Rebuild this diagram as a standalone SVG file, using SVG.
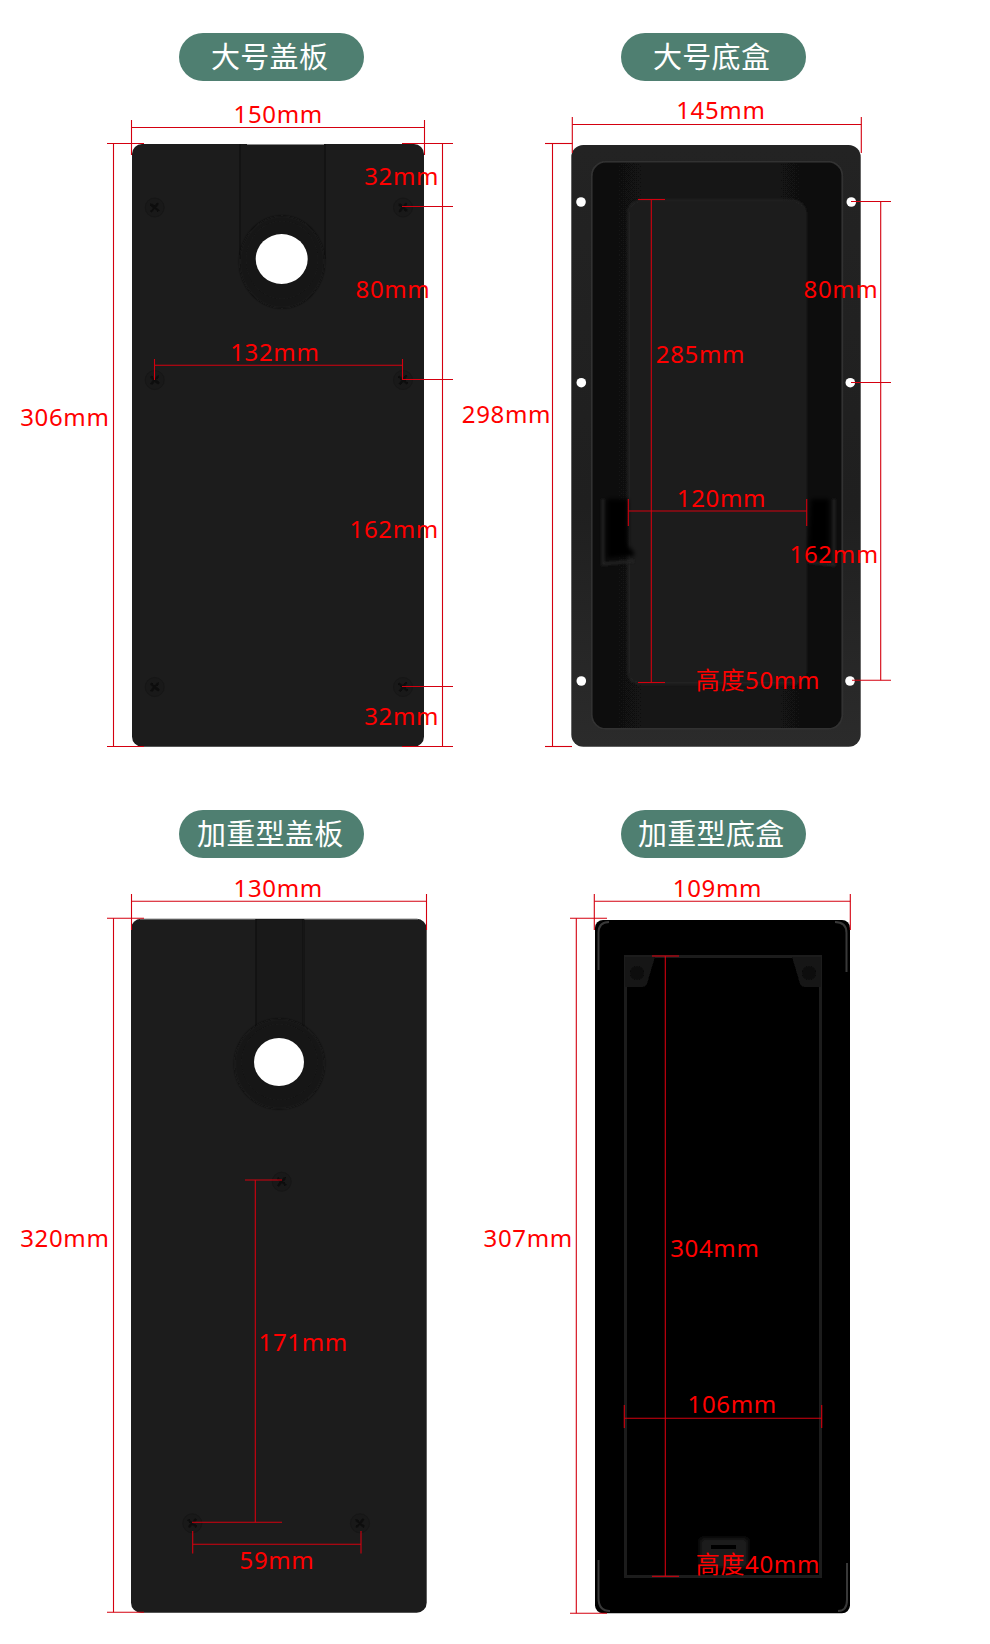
<svg xmlns="http://www.w3.org/2000/svg" xmlns:xlink="http://www.w3.org/1999/xlink" width="990" height="1644" viewBox="0 0 990 1644">
<style>
.d{font-family:"Noto Sans","Noto Sans CJK SC",sans-serif;font-size:24px;fill:#f00;letter-spacing:.65px}
.t{font-family:"Noto Sans CJK SC",sans-serif;font-size:29px;fill:#fff;letter-spacing:.3px}
.pill{fill:#4f7f71}
.dim line{stroke:#d4000f;stroke-width:1.1;fill:none}
.hole{fill:#fff}
</style>
<defs>
<filter id="b0" x="-30%" y="-30%" width="160%" height="160%"><feGaussianBlur stdDeviation=".6"/></filter>
<filter id="b1" x="-30%" y="-30%" width="160%" height="160%"><feGaussianBlur stdDeviation="1"/></filter>
<filter id="b2" x="-30%" y="-30%" width="160%" height="160%"><feGaussianBlur stdDeviation="2"/></filter>
<linearGradient id="flange" x1="0" y1="0" x2="0" y2="1"><stop offset="0" stop-color="#232323"/><stop offset=".6" stop-color="#1f1f1f"/><stop offset="1" stop-color="#2b2b2b"/></linearGradient>
<linearGradient id="pit" x1="0" y1="0" x2="1" y2="0"><stop offset="0" stop-color="#101010"/><stop offset=".5" stop-color="#151515"/><stop offset="1" stop-color="#0f0f0f"/></linearGradient>
<g id="screw">
<circle r="9.500" fill="#191919" stroke="#161616" stroke-width="1"/>
<path d="M-3.500-3L3.500 3M3-3.500L-3 3.500" stroke="#0c0c0c" stroke-width="2.400" stroke-linecap="round" filter="url(#b0)"/>
</g>
</defs>
<rect width="990" height="1644" fill="#fff"/>

<g id="title-1"><rect class="pill" x="179" y="33" width="185" height="48" rx="24"/><text class="t" x="211" y="68">大号盖板</text></g>
<g id="title-2"><rect class="pill" x="621" y="33" width="185" height="48" rx="24"/><text class="t" x="653" y="68">大号底盒</text></g>
<g id="title-3"><rect class="pill" x="179" y="810" width="185" height="48" rx="24"/><text class="t" x="197" y="845">加重型盖板</text></g>
<g id="title-4"><rect class="pill" x="621" y="810" width="185" height="48" rx="24"/><text class="t" x="638" y="845">加重型底盒</text></g>

<g id="panel-large-cover">
<rect x="132" y="144" width="292" height="602.700" rx="10" fill="#1c1c1c"/>
<path d="M240 144H325V259A42.500 49 0 0 1 240 259Z" fill="#1a1a1a"/>
<path d="M240 144V259M325 144V259" stroke="#161616" stroke-width="1.500" fill="none" filter="url(#b0)"/>
<line x1="247" y1="144.500" x2="324" y2="144.500" stroke="#8a8a8a" stroke-width="1"/>
<ellipse cx="282" cy="262" rx="42.500" ry="46" fill="#131313" filter="url(#b1)"/>
<ellipse cx="282" cy="260" rx="36" ry="39" fill="#191919" filter="url(#b0)"/>
<ellipse cx="281.700" cy="259" rx="26" ry="25" class="hole"/>
<use xlink:href="#screw" href="#screw" x="154.700" y="207.500"/>
<use xlink:href="#screw" href="#screw" x="403" y="207.500"/>
<use xlink:href="#screw" href="#screw" x="154.700" y="380"/>
<use xlink:href="#screw" href="#screw" x="403" y="380"/>
<use xlink:href="#screw" href="#screw" x="154.700" y="687"/>
<use xlink:href="#screw" href="#screw" x="403" y="687"/>
</g>

<g id="panel-large-box">
<rect x="571.300" y="145" width="289.400" height="601.700" rx="12" fill="url(#flange)"/>
<rect x="591.800" y="161.800" width="250.500" height="567" rx="14" fill="url(#pit)" stroke="#333" stroke-width="1.600" filter="url(#b0)"/>
<rect x="628.500" y="201" width="176.500" height="482.500" rx="12" fill="#1b1b1b" stroke="#232323" stroke-width="2.500" filter="url(#b1)"/>
<path d="M603 499V564L634 561" fill="none" stroke="#242424" stroke-width="3" filter="url(#b1)"/>
<path d="M607 499H628V546L634 552V556L607 558Z" fill="#000" filter="url(#b2)"/>
<path d="M834 499V565L808 562" fill="none" stroke="#262626" stroke-width="2.500" filter="url(#b1)"/>
<path d="M811 499H829V560L808 556Z" fill="#000" filter="url(#b2)"/>
<circle class="hole" cx="581" cy="202" r="4.800"/>
<circle class="hole" cx="581.300" cy="382.700" r="4.800"/>
<circle class="hole" cx="581.300" cy="681" r="4.800"/>
<circle class="hole" cx="851.300" cy="202" r="4.800"/>
<circle class="hole" cx="850.300" cy="382.700" r="4.800"/>
<circle class="hole" cx="850" cy="681" r="4.800"/>
</g>

<g id="panel-heavy-cover">
<rect x="131" y="918.700" width="295.700" height="694" rx="10" fill="#1c1c1c"/>
<line x1="140" y1="919" x2="418" y2="919" stroke="#d0d0d0" stroke-width=".7"/>
<rect x="256" y="919" width="47.500" height="115" fill="#191919"/>
<path d="M256 919V1034M303.500 919V1034" stroke="#151515" stroke-width="1.500" filter="url(#b0)"/>
<circle cx="279.500" cy="1064" r="45" fill="#131313" filter="url(#b1)"/>
<circle cx="279.500" cy="1062" r="38" fill="#181818" filter="url(#b0)"/>
<ellipse cx="279" cy="1062" rx="25" ry="24" class="hole"/>
<use xlink:href="#screw" href="#screw" x="281.700" y="1181.700"/>
<use xlink:href="#screw" href="#screw" x="192.300" y="1523.300"/>
<use xlink:href="#screw" href="#screw" x="360" y="1523.300"/>
</g>

<g id="panel-heavy-box">
<rect x="595" y="920" width="255" height="693.300" rx="8" fill="#000"/>
<path d="M598.500 970V933Q598.500 922 609 922M835 922Q846.500 922 846.500 933V972M598.500 1560V1598Q598.500 1611 610 1611M847 1563V1600Q847 1611 838 1611" fill="none" stroke="#383838" stroke-width="2" filter="url(#b0)"/>
<rect x="625.500" y="956.500" width="195" height="620" fill="none" stroke="#1a1a1a" stroke-width="3" filter="url(#b0)"/>
<path d="M625 957H655L647 984Q646 987 642 987H625Z" fill="#141414" filter="url(#b0)"/>
<path d="M821 957H792L800 984Q801 987 805 987H821Z" fill="#141414" filter="url(#b0)"/>
<circle cx="637" cy="973" r="7" fill="#0a0a0a" filter="url(#b0)"/>
<circle cx="809" cy="973" r="7" fill="#0a0a0a" filter="url(#b0)"/>
<rect x="700" y="1538" width="48" height="30" rx="3" fill="#1a1a1a" filter="url(#b2)"/>
<path d="M711 1545V1549H736V1545Z" fill="#000" filter="url(#b0)"/>
</g>

<g id="connectors" class="dim">
<line x1="131.500" y1="127.500" x2="424.500" y2="127.500"/><line x1="131.500" y1="120" x2="131.500" y2="155"/><line x1="424.500" y1="120" x2="424.500" y2="155"/>
<line x1="107" y1="143.500" x2="144" y2="143.500"/><line x1="402" y1="143.500" x2="453" y2="143.500"/>
<line x1="113.500" y1="143.500" x2="113.500" y2="746.500"/><line x1="442.500" y1="143.500" x2="442.500" y2="746.500"/>
<line x1="107" y1="746.500" x2="144" y2="746.500"/><line x1="402" y1="746.500" x2="453" y2="746.500"/>
<line x1="402" y1="206.500" x2="453" y2="206.500"/><line x1="402" y1="379.500" x2="453" y2="379.500"/><line x1="402" y1="686.500" x2="453" y2="686.500"/>
<line x1="154.500" y1="365.300" x2="402.500" y2="365.300"/><line x1="154.500" y1="359" x2="154.500" y2="380"/><line x1="402.500" y1="359" x2="402.500" y2="380"/>

<line x1="572.300" y1="124.500" x2="861.300" y2="124.500"/><line x1="572.300" y1="117" x2="572.300" y2="153"/><line x1="861.300" y1="117" x2="861.300" y2="153"/>
<line x1="545" y1="143.500" x2="572.500" y2="143.500"/><line x1="545" y1="746.500" x2="572" y2="746.500"/><line x1="552.500" y1="143.500" x2="552.500" y2="746.500"/>
<line x1="880.700" y1="201.500" x2="880.700" y2="680.300"/><line x1="851" y1="201.500" x2="891" y2="201.500"/><line x1="851" y1="382.500" x2="891" y2="382.500"/><line x1="852" y1="680.300" x2="891" y2="680.300"/>
<line x1="651.300" y1="199.500" x2="651.300" y2="682.500"/><line x1="638" y1="199.500" x2="665" y2="199.500"/><line x1="638" y1="682.500" x2="665" y2="682.500"/>
<line x1="628.300" y1="511" x2="806.700" y2="511"/><line x1="628.300" y1="499" x2="628.300" y2="526"/><line x1="806.700" y1="499" x2="806.700" y2="526"/>

<line x1="131.500" y1="901.300" x2="426.500" y2="901.300"/><line x1="131.500" y1="894" x2="131.500" y2="930"/><line x1="426.500" y1="894" x2="426.500" y2="930"/>
<line x1="107" y1="918.300" x2="144" y2="918.300"/><line x1="107" y1="1612.300" x2="144" y2="1612.300"/><line x1="113.500" y1="918.300" x2="113.500" y2="1612.300"/>
<line x1="255.300" y1="1180" x2="255.300" y2="1522.300"/><line x1="245" y1="1180" x2="282" y2="1180"/><line x1="192" y1="1522.300" x2="282" y2="1522.300"/>
<line x1="192.700" y1="1544.300" x2="361" y2="1544.300"/><line x1="192.700" y1="1531" x2="192.700" y2="1553.500"/><line x1="361" y1="1531" x2="361" y2="1553.500"/>

<line x1="594.300" y1="901.300" x2="850.300" y2="901.300"/><line x1="594.300" y1="894" x2="594.300" y2="930"/><line x1="850.300" y1="894" x2="850.300" y2="930"/>
<line x1="570" y1="918.300" x2="607" y2="918.300"/><line x1="570" y1="1613.300" x2="607" y2="1613.300"/><line x1="576.300" y1="918.300" x2="576.300" y2="1613.300"/>
<line x1="665.300" y1="956" x2="665.300" y2="1576.300"/><line x1="652" y1="956" x2="679" y2="956"/><line x1="652" y1="1576.300" x2="679" y2="1576.300"/>
<line x1="624.300" y1="1418.300" x2="821.700" y2="1418.300"/><line x1="624.300" y1="1405" x2="624.300" y2="1428"/><line x1="821.700" y1="1405" x2="821.700" y2="1428"/>
</g>

<g id="labels" transform="translate(-1.500 0)">
<text class="d" x="235" y="122.700">150mm</text>
<text class="d" x="365.700" y="185">32mm</text>
<text class="d" x="357" y="298">80mm</text>
<text class="d" x="231.700" y="360.700">132mm</text>
<text class="d" x="21.700" y="426">306mm</text>
<text class="d" x="351" y="537.700">162mm</text>
<text class="d" x="365.700" y="725">32mm</text>
<text class="d" x="677.700" y="119.300">145mm</text>
<text class="d" x="805" y="298">80mm</text>
<text class="d" x="657.300" y="362.700">285mm</text>
<text class="d" x="463.300" y="423">298mm</text>
<text class="d" x="678.300" y="506.700">120mm</text>
<text class="d" x="791" y="563.300">162mm</text>
<text class="d" x="697.300" y="688.700">高度50mm</text>
<text class="d" x="235" y="896.700">130mm</text>
<text class="d" x="21.700" y="1247.300">320mm</text>
<text class="d" x="260" y="1350.700">171mm</text>
<text class="d" x="241" y="1568.700">59mm</text>
<text class="d" x="674.300" y="896.700">109mm</text>
<text class="d" x="485" y="1247.300">307mm</text>
<text class="d" x="671.700" y="1256.700">304mm</text>
<text class="d" x="689" y="1412.700">106mm</text>
<text class="d" x="697.300" y="1572.700">高度40mm</text>
</g>
</svg>
